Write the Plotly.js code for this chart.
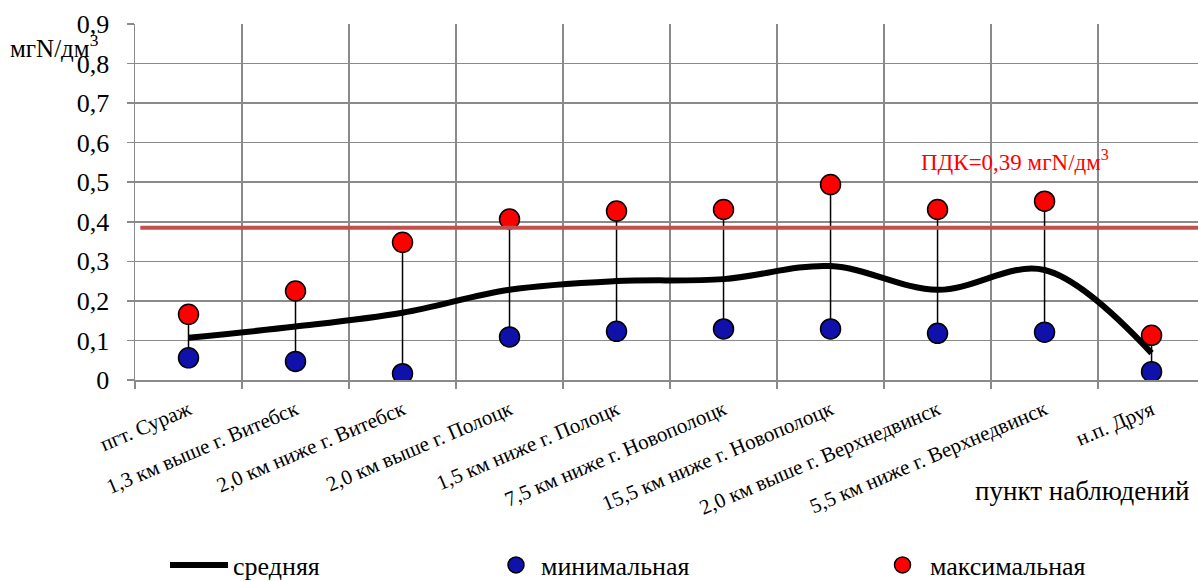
<!DOCTYPE html>
<html>
<head>
<meta charset="utf-8">
<script src="https://cdn.plot.ly/plotly-3.0.1.min.js"></script>
<style>html,body{margin:0;padding:0;background:#fff;}#chart{width:1198px;height:581px;}</style>
</head>
<body>
<div id="chart"></div>
<script>
const categories = ["пгт. Сураж","1,3 км выше г. Витебск","2,0 км ниже г. Витебск","2,0 км выше г. Полоцк","1,5 км ниже г. Полоцк","7,5 км ниже г. Новополоцк","15,5 км ниже г. Новополоцк","2,0 км выше г. Верхнедвинск","5,5 км ниже г. Верхнедвинск","н.п. Друя"];
const meanVals = [0.107, 0.135, 0.170, 0.228, 0.250, 0.255, 0.288, 0.228, 0.278, 0.068];
const minVals  = [0.056, 0.047, 0.016, 0.109, 0.123, 0.129, 0.129, 0.118, 0.121, 0.021];
const maxVals  = [0.166, 0.225, 0.348, 0.407, 0.427, 0.431, 0.494, 0.431, 0.452, 0.113];
const pdkValue = 0.385;
const pdkLabel = "ПДК=0,39 мгN/дм<sup>3</sup>";
const yTitle = "мгN/дм<sup>3</sup>";
const xTitle = "пункт наблюдений";
const seriesNames = ["средняя","минимальная","максимальная"];

const serif = "Liberation Serif";
const hlX = [], hlY = [];
categories.forEach((c, i) => { hlX.push(c, c, null); hlY.push(minVals[i], maxVals[i], null); });

const traces = [
  {x: hlX, y: hlY, type: "scatter", mode: "lines", line: {color: "#000", width: 1.5}, showlegend: false, hoverinfo: "skip"},
  {x: categories, y: meanVals, name: seriesNames[0], type: "scatter", mode: "lines", legend: "legend",
   line: {color: "#000", width: 6, shape: "spline", smoothing: 1}},
  {x: categories, y: minVals, name: seriesNames[1], type: "scatter", mode: "markers", legend: "legend2",
   marker: {color: "#1010AA", size: 20, line: {color: "#000", width: 1.5}}},
  {x: categories, y: maxVals, name: seriesNames[2], type: "scatter", mode: "markers", legend: "legend3",
   marker: {color: "#FF0000", size: 20, line: {color: "#000", width: 1.5}}}
];

const px2x = p => (p - 135) / 1063;
const px2y = p => (380 - p) / 356;
const legFont = {family: serif, size: 26, color: "#000"};

const layout = {
  width: 1198, height: 581,
  margin: {l: 135, r: 0, t: 24, b: 201, autoexpand: false},
  paper_bgcolor: "#fff", plot_bgcolor: "#fff",
  separators: ", ",
  font: {family: serif, color: "#000"},
  xaxis: {
    type: "category", range: [-0.5, 9.434], tickson: "boundaries",
    showgrid: true, gridcolor: "#8a8a8a", gridwidth: 1.5,
    showline: true, linecolor: "#8a8a8a", linewidth: 1.5,
    ticks: "outside", ticklen: 7, tickcolor: "#8a8a8a", tickwidth: 1.5,
    tickangle: -23, tickfont: {family: serif, size: 21, color: "#000"},
    ticklabelstandoff: 8, fixedrange: true
  },
  yaxis: {
    range: [0, 0.9], dtick: 0.1, tick0: 0,
    showgrid: true, gridcolor: "#8a8a8a", gridwidth: 1.5,
    showline: true, linecolor: "#8a8a8a", linewidth: 1.5,
    ticks: "outside", ticklen: 7, tickcolor: "#8a8a8a", tickwidth: 1.5,
    tickfont: {family: serif, size: 26, color: "#000"},
    ticklabelstandoff: 12, zeroline: false, fixedrange: true
  },
  shapes: [{type: "line", xref: "paper", yref: "y", x0: 0.005, x1: 1, y0: pdkValue, y1: pdkValue,
            line: {color: "#C0504D", width: 4}, layer: "above"}],
  annotations: [
    {text: pdkLabel, xref: "paper", yref: "paper", x: px2x(919), y: px2y(160),
     xanchor: "left", yanchor: "middle", showarrow: false, font: {family: serif, size: 23, color: "#FF0000"}},
    {text: yTitle, xref: "paper", yref: "paper", x: px2x(8), y: px2y(46),
     xanchor: "left", yanchor: "middle", showarrow: false, font: {family: serif, size: 25, color: "#000"}},
    {text: xTitle, xref: "paper", yref: "paper", x: px2x(1192), y: px2y(491),
     xanchor: "right", yanchor: "middle", showarrow: false, font: {family: serif, size: 27, color: "#000"}}
  ],
  showlegend: true,
  legend:  {orientation: "h", x: px2x(165), y: px2y(565), xanchor: "left", yanchor: "middle",
            font: legFont, itemwidth: 58, bgcolor: "rgba(0,0,0,0)"},
  legend2: {orientation: "h", x: px2x(491), y: px2y(565), xanchor: "left", yanchor: "middle",
            font: legFont, itemwidth: 40, bgcolor: "rgba(0,0,0,0)"},
  legend3: {orientation: "h", x: px2x(875), y: px2y(565), xanchor: "left", yanchor: "middle",
            font: legFont, itemwidth: 45, bgcolor: "rgba(0,0,0,0)"}
};

Plotly.newPlot("chart", traces, layout, {displayModeBar: false, staticPlot: true});
</script>
</body>
</html>
